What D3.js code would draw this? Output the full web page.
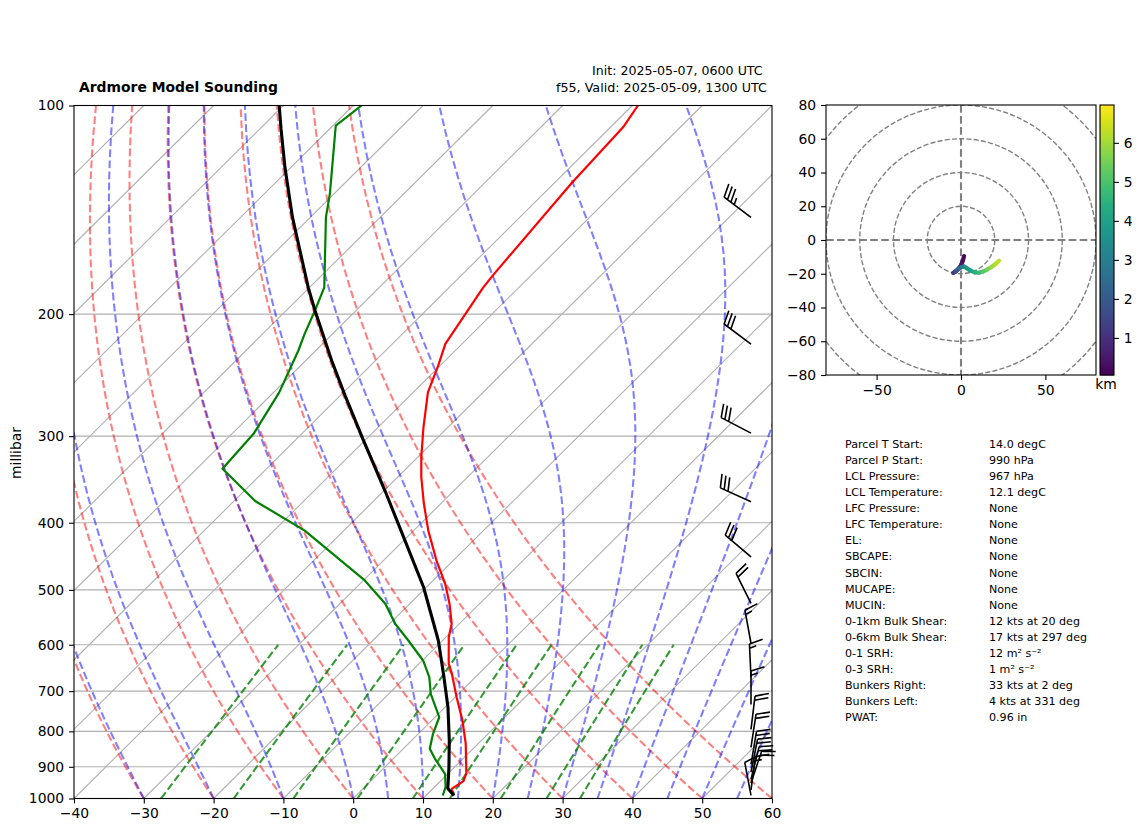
<!DOCTYPE html>
<html>
<head>
<meta charset="utf-8">
<script src="https://cdn.jsdelivr.net/npm/d3@7"></script>
<style>
  html, body { margin: 0; padding: 0; background: #fff; }
  svg { display: block; }
  text { font-family: "DejaVu Sans", sans-serif; fill: #000; }
  .tick text { font-size: 13.9px; }
  .tick line, .domain { stroke: #000; stroke-width: 1.1px; }
</style>
</head>
<body>
<div id="chart"></div>
<script>
// environment temperature
const tempP = [100, 107.5, 129.5, 175.4, 183.3, 220.8, 237.2, 259.4, 291.3, 321.7, 343.9, 375.6, 410.6, 453.6, 490, 523.6, 559.6, 584.9, 638.5, 660.3, 714.2, 771.7, 833.3, 920.2, 944.1, 968.3, 990];
const tempC = [-59.2, -58.2, -57.5, -55.5, -55.1, -52.4, -50.3, -47.9, -43.5, -39.5, -36.6, -32.4, -27.9, -22.4, -17.8, -14.3, -11.1, -9.6, -5.8, -3.9, 0.2, 4.4, 8.2, 12.6, 13.3, 12.7, 14];

// dewpoint
const dewP = [100, 106.9, 134.1, 144.9, 183, 197.6, 213.6, 225.7, 259.4, 297.7, 334.4, 372.4, 410.6, 484.6, 523.6, 559.6, 591.6, 632.2, 668.3, 706.1, 763.4, 806.6, 847.8, 876.6, 921.2, 963.1, 990];
const dewC = [-98.8, -99.6, -90.6, -87.8, -77.9, -75.9, -74, -72.5, -69.2, -66.9, -66.3, -56.9, -45.6, -29.8, -23.5, -19.2, -14.9, -9.9, -6.6, -4, 0.6, 2.1, 3.8, 6, 9.6, 11.6, 12.4];

// lifted parcel
const parcelP = [100, 108, 122.7, 144.9, 183, 197.6, 233.3, 262.2, 304.3, 359.4, 424.4, 495.6, 591.6, 660.3, 738.3, 824.8, 901.2, 967, 990];
const parcelC = [-110.6, -107, -100.9, -92.6, -80.2, -75.9, -66.3, -59.3, -50.2, -39.9, -29.8, -20.4, -10.6, -5.1, 0.4, 5.4, 9.2, 12.1, 14];

// wind barbs, knots
const barbP = [145, 221, 297, 373, 448, 523, 597, 669, 732, 795, 844, 893, 916, 938, 950, 972, 990];
const barbU = [28, 24, 26.6, 27.3, 23, 8.9, 2.7, 0.7, 0, -2.4, -3, -3.3, -4, -5, -6.5, -2, 1.8];
const barbV = [-21, -18, -13.8, -12.3, -19.3, -17.9, -14.7, -15, -15, -19.9, -19.8, -19.8, -20, -20, -19.5, -15, -9.5];

// hodograph, knots and km
const hodoU = [1.8, 1.2, 0.2, -1, -3, -4.6, -3.2, -1.2, 0.5, 2, 3.5, 5.5, 8, 10.5, 13, 15.5, 18, 20.5, 22.5];
const hodoV = [-9.5, -12, -14.5, -16.5, -18.5, -19.5, -18.5, -17, -16, -15.8, -16.8, -18, -19.2, -19.4, -18.7, -17.5, -16, -14.2, -12.3];
const hodoH = [0.05, 0.2, 0.4, 0.6, 0.8, 1, 1.5, 2.2, 2.7, 3.2, 3.6, 3.9, 4.3, 4.6, 5, 5.4, 5.8, 6.1, 6.4];

// background lines and ticks
const dryT0 = [-40, -30, -20, -10, 0, 10, 20, 30, 40, 50, 60];
const moistT0 = [-40, -30, -20, -10, 0, 5, 10, 15, 20, 25, 30, 35, 40, 45, 50, 55, 60];
const mixRatios = [0.0004, 0.001, 0.002, 0.004, 0.007, 0.01, 0.016, 0.024, 0.032];
const pressureTicks = [100, 200, 300, 400, 500, 600, 700, 800, 900, 1000];
const tempTicks = [-40, -30, -20, -10, 0, 10, 20, 30, 40, 50, 60];
const isotherms = d3.range(-130, 61, 10);
const hodoRings = [20, 40, 60, 80, 100];
const hodoXTicks = [-50, 0, 50];
const hodoYTicks = [-80, -60, -40, -20, 0, 20, 40, 60, 80];
const colorbarTicks = [1, 2, 3, 4, 5, 6];

const statLabels = ["Parcel T Start:", "Parcel P Start:", "LCL Pressure:", "LCL Temperature:", "LFC Pressure:", "LFC Temperature:", "EL:", "SBCAPE:", "SBCIN:", "MUCAPE:", "MUCIN:", "0-1km Bulk Shear:", "0-6km Bulk Shear:", "0-1 SRH:", "0-3 SRH:", "Bunkers Right:", "Bunkers Left:", "PWAT:"];
const statValues = ["14.0 degC", "990 hPa", "967 hPa", "12.1 degC", "None", "None", "None", "None", "None", "None", "None", "12 kts at 20 deg", "17 kts at 297 deg", "12 m² s⁻²", "1 m² s⁻²", "33 kts at 2 deg", "4 kts at 331 deg", "0.96 in"];

const width = 1142;
const height = 832;
const plotL = 74, plotR = 772, plotT = 105.5, plotB = 798.5;

const svg = d3.select("#chart").append("svg").attr("width", width).attr("height", height);

const x = d3.scaleLinear().domain([-40, 60]).range([plotL, plotR]);
const y = d3.scaleLog().domain([1000, 100]).range([plotB, plotT]);

// 45 degree skew, applied in axes fractions
const skewX = (t, p) => x(t) + ((plotB - y(p)) / (plotB - plotT)) * (plotR - plotL);
const skewLine = d3.line().x((d) => skewX(d[0], d[1])).y((d) => y(d[1]));

svg.append("clipPath").attr("id", "skew-clip").append("rect")
  .attr("x", plotL).attr("y", plotT).attr("width", plotR - plotL).attr("height", plotB - plotT);

const plot = svg.append("g").attr("clip-path", "url(#skew-clip)");

// gridlines
plot.selectAll(".iso").data(isotherms).enter().append("path")
  .attr("d", (t) => skewLine([[t, 1000], [t, 100]]))
  .attr("fill", "none").attr("stroke", "#b0b0b0").attr("stroke-width", 1.1);
plot.selectAll(".isobar").data(pressureTicks).enter().append("line")
  .attr("x1", plotL).attr("x2", plotR).attr("y1", (p) => y(p)).attr("y2", (p) => y(p))
  .attr("stroke", "#b0b0b0").attr("stroke-width", 1.1);

// thermodynamics for the background curves
const levels = d3.range(0, 100).map((i) => 1000 - (900 * i) / 99);
const kappa = 0.2857;
const satVap = (tk) => 6.112 * Math.exp((17.67 * (tk - 273.15)) / (tk - 29.65));

const dryCurve = (t0) => levels.map((p) => [(t0 + 273.15) * Math.pow(p / 1000, kappa) - 273.15, p]);

const moistSlope = (tk, p) => {
  const Rd = 287.05, Cp = 1005.7, Lv = 2.501e6, eps = 0.622;
  const es = satVap(tk);
  const rs = (eps * es) / (p - es);
  return ((Rd * tk + Lv * rs) / (Cp + (Lv * Lv * rs * eps) / (Rd * tk * tk))) / p;
};

const moistCurve = (t0) => {
  let tk = t0 + 273.15;
  return levels.map((p, i) => {
    if (i > 0) {
      const steps = 4;
      const h = (p - levels[i - 1]) / steps;
      let pp = levels[i - 1];
      for (let s = 0; s < steps; s++) {
        const k1 = moistSlope(tk, pp);
        const k2 = moistSlope(tk + (h * k1) / 2, pp + h / 2);
        const k3 = moistSlope(tk + (h * k2) / 2, pp + h / 2);
        const k4 = moistSlope(tk + h * k3, pp + h);
        tk += (h * (k1 + 2 * k2 + 2 * k3 + k4)) / 6;
        pp += h;
      }
    }
    return [tk - 273.15, p];
  });
};

const mixCurve = (w) => d3.range(0, 50).map((i) => {
  const p = 1000 - (400 * i) / 49;
  const lnE = Math.log((p * w) / (0.622 + w) / 6.112);
  return [(243.5 * lnE) / (17.67 - lnE), p];
});

const dashed = (sel, color, opacity) => sel
  .attr("fill", "none").attr("stroke", color).attr("stroke-opacity", opacity)
  .attr("stroke-width", 2.08).attr("stroke-dasharray", "7.7 3.33");

plot.selectAll(".dry").data(dryT0).enter().append("path")
  .attr("d", (t) => skewLine(dryCurve(t))).call(dashed, "#ff0000", 0.5);
plot.selectAll(".moist").data(moistT0).enter().append("path")
  .attr("d", (t) => skewLine(moistCurve(t))).call(dashed, "#0000ff", 0.5);
plot.selectAll(".mix").data(mixRatios).enter().append("path")
  .attr("d", (w) => skewLine(mixCurve(w))).call(dashed, "#008000", 0.8);

// sounding
const drawTrace = (ps, ts, color, lw) => {
  plot.append("path")
    .attr("d", skewLine(ps.map((p, i) => [ts[i], p])))
    .attr("fill", "none").attr("stroke", color).attr("stroke-width", lw)
    .attr("stroke-linejoin", "round");
};
drawTrace(tempP, tempC, "#ff0000", 2.2);
drawTrace(dewP, dewC, "#008000", 2.2);
drawTrace(parcelP, parcelC, "#000000", 3.1);

// frame and axes
svg.append("rect").attr("x", plotL).attr("y", plotT).attr("width", plotR - plotL).attr("height", plotB - plotT)
  .attr("fill", "none").attr("stroke", "#000").attr("stroke-width", 1.1);

const axisBottom = svg.append("g").attr("transform", `translate(0,${plotB})`)
  .call(d3.axisBottom(x).tickValues(tempTicks).tickFormat((d) => d.toString().replace("-", "\u2212")).tickSize(4.9).tickPadding(4.9));
const axisLeft = svg.append("g").attr("transform", `translate(${plotL},0)`)
  .call(d3.axisLeft(y).tickValues(pressureTicks).tickFormat(d3.format("d")).tickSize(4.9).tickPadding(4.9));
axisBottom.select(".domain").remove();
axisLeft.select(".domain").remove();

svg.append("text").attr("transform", "translate(21,453) rotate(-90)")
  .attr("text-anchor", "middle").style("font-size", "13.9px").text("millibar");

svg.append("text").attr("x", 79).attr("y", 92).style("font-size", "13.9px").style("font-weight", "bold")
  .text("Ardmore Model Sounding");
svg.append("text").attr("x", 592).attr("y", 75).style("font-size", "12.6px").text("Init: 2025-05-07, 0600 UTC");
svg.append("text").attr("x", 556).attr("y", 92).style("font-size", "12.7px").text("f55, Valid: 2025-05-09, 1300 UTC");

// wind barbs, same construction as matplotlib
const barbX = 751, barbLen = 33.6;
const barbPath = (p, u, v) => {
  const speed = Math.hypot(u, v);
  const rounded = 5 * Math.round(speed / 5);
  const flags = Math.floor(rounded / 50);
  const fulls = Math.floor((rounded - flags * 50) / 10);
  const half = rounded - flags * 50 - fulls * 10 >= 5;
  const dx = -u / speed, dy = v / speed; // base to tip, screen coords
  const px = -dy, py = dx;               // right of the staff
  const x0 = barbX, y0 = y(p);
  const spacing = barbLen * 0.125, featherH = barbLen * 0.4, featherW = barbLen * 0.25;
  const at = (along, out) => `${x0 + dx * along + px * out},${y0 + dy * along + py * out}`;
  let d = `M${at(0, 0)}L${at(barbLen, 0)}`;
  let offset = barbLen;
  for (let i = 0; i < flags; i++) {
    d += `M${at(offset, 0)}L${at(offset - featherW / 2, featherH)}L${at(offset - featherW, 0)}Z`;
    offset -= featherW + spacing;
  }
  for (let i = 0; i < fulls; i++) {
    d += `M${at(offset, 0)}L${at(offset + featherW / 2, featherH)}`;
    offset -= spacing;
  }
  if (half) {
    if (offset === barbLen) offset -= 1.5 * spacing;
    d += `M${at(offset, 0)}L${at(offset + featherW / 4, featherH / 2)}`;
  }
  return d;
};
svg.append("g").selectAll("path").data(barbP).enter().append("path")
  .attr("d", (p, i) => barbPath(p, barbU[i], barbV[i]))
  .attr("fill", "#000").attr("stroke", "#000").attr("stroke-width", 1.6);

// hodograph
const hodoL = 826, hodoR = 1096, hodoT = 105, hodoB = 375;
const hx = d3.scaleLinear().domain([-80, 80]).range([hodoL, hodoR]);
const hy = d3.scaleLinear().domain([-80, 80]).range([hodoB, hodoT]);

svg.append("clipPath").attr("id", "hodo-clip").append("rect")
  .attr("x", hodoL).attr("y", hodoT).attr("width", hodoR - hodoL).attr("height", hodoB - hodoT);
const hodo = svg.append("g").attr("clip-path", "url(#hodo-clip)");

hodo.selectAll("circle").data(hodoRings).enter().append("circle")
  .attr("cx", hx(0)).attr("cy", hy(0)).attr("r", (r) => hx(r) - hx(0))
  .attr("fill", "none").attr("stroke", "#808080").attr("stroke-width", 1.39).attr("stroke-dasharray", "5.1 2.2");
hodo.append("line").attr("x1", hodoL).attr("x2", hodoR).attr("y1", hy(0)).attr("y2", hy(0))
  .attr("stroke", "#808080").attr("stroke-width", 2.08).attr("stroke-dasharray", "7.7 3.33");
hodo.append("line").attr("y1", hodoT).attr("y2", hodoB).attr("x1", hx(0)).attr("x2", hx(0))
  .attr("stroke", "#808080").attr("stroke-width", 2.08).attr("stroke-dasharray", "7.7 3.33");

const heightDomain = [0.05, 6.97];
const hColor = d3.scaleSequential(d3.interpolateViridis).domain(heightDomain);
hodo.selectAll(".seg").data(hodoU.slice(1)).enter().append("line")
  .attr("x1", (d, i) => hx(hodoU[i])).attr("y1", (d, i) => hy(hodoV[i]))
  .attr("x2", (d, i) => hx(hodoU[i + 1])).attr("y2", (d, i) => hy(hodoV[i + 1]))
  .attr("stroke", (d, i) => hColor((hodoH[i] + hodoH[i + 1]) / 2))
  .attr("stroke-width", 4.17).attr("stroke-linecap", "round");

svg.append("rect").attr("x", hodoL).attr("y", hodoT).attr("width", hodoR - hodoL).attr("height", hodoB - hodoT)
  .attr("fill", "none").attr("stroke", "#000").attr("stroke-width", 1.1);

const hAxisB = svg.append("g").attr("transform", `translate(0,${hodoB})`)
  .call(d3.axisBottom(hx).tickValues(hodoXTicks).tickFormat((d) => d.toString().replace("-", "\u2212")).tickSize(4.9).tickPadding(4.9));
const hAxisL = svg.append("g").attr("transform", `translate(${hodoL},0)`)
  .call(d3.axisLeft(hy).tickValues(hodoYTicks).tickFormat((d) => d.toString().replace("-", "\u2212")).tickSize(4.9).tickPadding(4.9));
hAxisB.select(".domain").remove();
hAxisL.select(".domain").remove();

// colorbar
const cbL = 1100, cbR = 1114;
const cbScale = d3.scaleLinear().domain(heightDomain).range([hodoB, hodoT]);
svg.append("g").selectAll("rect").data(d3.range(hodoT, hodoB)).enter().append("rect")
  .attr("x", cbL).attr("width", cbR - cbL).attr("y", (d) => d).attr("height", 1.5)
  .attr("fill", (d) => hColor(cbScale.invert(d + 0.5)));
svg.append("rect").attr("x", cbL).attr("y", hodoT).attr("width", cbR - cbL).attr("height", hodoB - hodoT)
  .attr("fill", "none").attr("stroke", "#000").attr("stroke-width", 1.1);
const cbAxis = svg.append("g").attr("transform", `translate(${cbR},0)`)
  .call(d3.axisRight(cbScale).tickValues(colorbarTicks).tickFormat(d3.format("d")).tickSize(4.9).tickPadding(4.9));
cbAxis.select(".domain").remove();
svg.append("text").attr("x", 1106).attr("y", 389).attr("text-anchor", "middle").style("font-size", "13.9px").text("km");

// stats table
const stats = svg.append("g").style("font-size", "11.1px");
stats.selectAll(".lab").data(statLabels).enter().append("text")
  .attr("x", 845).attr("y", (d, i) => 448 + i * 16.07).text((d) => d);
stats.selectAll(".val").data(statValues).enter().append("text")
  .attr("x", 989).attr("y", (d, i) => 448 + i * 16.07).text((d) => d);
</script>
</body>
</html>
